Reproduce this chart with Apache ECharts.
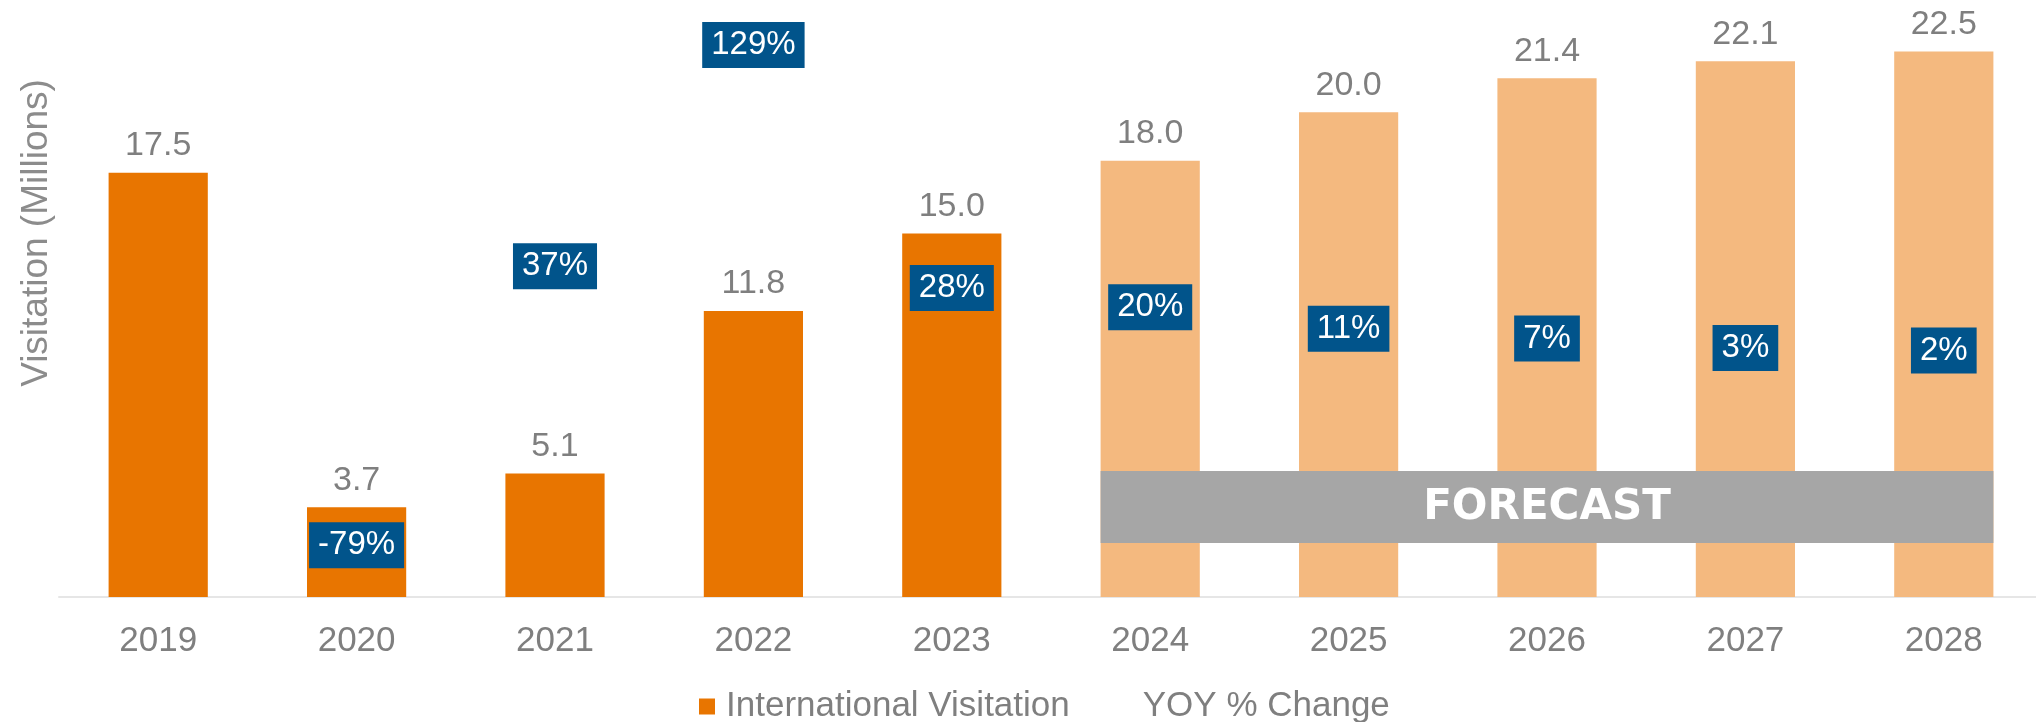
<!DOCTYPE html>
<html>
<head>
<meta charset="utf-8">
<title>International Visitation</title>
<script src="https://cdn.jsdelivr.net/npm/echarts@6/dist/echarts.min.js"></script>
<style>
  html, body { margin: 0; padding: 0; background: #ffffff; }
  #chart { width: 2036px; height: 722px; }
</style>
</head>
<body>
<div id="chart"></div>
<script>
// Years on the category axis
const years = ['2019', '2020', '2021', '2022', '2023', '2024', '2025', '2026', '2027', '2028'];
// International visitation, millions
const visitation = [17.5, 3.7, 5.1, 11.8, 15.0, 18.0, 20.0, 21.4, 22.1, 22.5];
// Year-over-year change, percent
const yoyChange = [null, -79, 37, 129, 28, 20, 11, 7, 3, 2];
// First projected year
const firstForecastYear = '2024';

const ACTUAL_COLOR = '#E87500';
const FORECAST_COLOR = '#F4B97F';
const LABEL_BLUE = '#01548B';
const TEXT_GRAY = '#7F7F7F';
const FONT = '"Liberation Sans", Arial, sans-serif';
const BAR_GAP = 0.5;

const forecastIndex = years.indexOf(firstForecastYear);

const chart = echarts.init(document.getElementById('chart'), null, { renderer: 'canvas' });

const option = {
  animation: false,
  backgroundColor: '#ffffff',
  textStyle: { fontFamily: FONT },
  grid: {
    left: 59, right: -7, top: -9, bottom: 125,
    containLabel: false,
    outerBoundsMode: 'none'
  },
  legend: {
    left: 694, top: 684,
    itemWidth: 16, itemHeight: 16, itemGap: 46,
    textStyle: { color: TEXT_GRAY, fontSize: 35, fontFamily: FONT, padding: [0, 0, 0, 6] },
    data: [
      { name: 'International Visitation', icon: 'rect', itemStyle: { color: ACTUAL_COLOR } },
      { name: 'YOY % Change', icon: 'rect', itemStyle: { color: 'rgba(0,0,0,0)', borderWidth: 0 } }
    ]
  },
  xAxis: {
    type: 'category',
    data: years,
    axisLine: { show: true, lineStyle: { color: '#E6E6E6', width: 2 } },
    axisTick: { show: false },
    axisLabel: { color: TEXT_GRAY, fontSize: 35, fontFamily: FONT, margin: 27 },
    splitLine: { show: false }
  },
  yAxis: [
    {
      type: 'value', min: 0, max: 25,
      axisLine: { show: false }, axisTick: { show: false },
      axisLabel: { show: false }, splitLine: { show: false }
    },
    {
      type: 'value', min: -100.5, max: 151.5,
      axisLine: { show: false }, axisTick: { show: false },
      axisLabel: { show: false }, splitLine: { show: false }
    }
  ],
  series: [
    {
      name: 'International Visitation',
      type: 'bar',
      yAxisIndex: 0,
      barCategoryGap: (BAR_GAP * 100) + '%',
      itemStyle: { color: ACTUAL_COLOR },
      data: visitation.map((v, i) => ({
        value: v,
        itemStyle: { color: i >= forecastIndex ? FORECAST_COLOR : ACTUAL_COLOR }
      })),
      label: {
        show: true,
        position: 'top',
        distance: 10,
        color: TEXT_GRAY,
        fontSize: 34,
        fontFamily: FONT,
        formatter: p => Number(p.value).toFixed(1)
      },
      z: 2
    },
    {
      name: 'YOY % Change',
      type: 'line',
      yAxisIndex: 1,
      data: yoyChange,
      symbol: 'circle',
      symbolSize: 1,
      showSymbol: true,
      connectNulls: false,
      lineStyle: { width: 0, opacity: 0 },
      itemStyle: { color: 'rgba(0,0,0,0)' },
      label: {
        show: true,
        position: 'inside',
        formatter: p => p.value + '%',
        color: '#ffffff',
        backgroundColor: LABEL_BLUE,
        fontSize: 33,
        lineHeight: 32,
        fontFamily: FONT,
        padding: [7, 9, 7, 9]
      },
      z: 5
    }
  ],
  graphic: [
    {
      type: 'text',
      id: 'yTitle',
      x: 37, y: 233,
      rotation: Math.PI / 2,
      style: {
        text: 'Visitation (Millions)',
        fill: '#8C8C8C',
        font: '37px ' + FONT,
        align: 'center',
        verticalAlign: 'middle'
      }
    }
  ]
};

chart.setOption(option);

// Forecast band across the projected bars, placed from the axes' own scales
function drawForecastBand() {
  const x0 = chart.convertToPixel({ xAxisIndex: 0 }, years[forecastIndex]);
  const x1 = chart.convertToPixel({ xAxisIndex: 0 }, years[years.length - 1]);
  const step = chart.convertToPixel({ xAxisIndex: 0 }, years[1]) - chart.convertToPixel({ xAxisIndex: 0 }, years[0]);
  const half = step * (1 - BAR_GAP) / 2;
  const yTop = chart.convertToPixel({ yAxisIndex: 0 }, 5.2);
  const yBottom = chart.convertToPixel({ yAxisIndex: 0 }, 2.23);
  const left = x0 - half;
  const right = x1 + half;
  chart.setOption({
    graphic: [
      {
        type: 'rect',
        id: 'forecastBand',
        shape: { x: left, y: yTop, width: right - left, height: yBottom - yTop },
        style: { fill: '#A6A6A6' },
        z: 10
      },
      {
        type: 'text',
        id: 'forecastText',
        x: (left + right) / 2,
        y: (yTop + yBottom) / 2 + 1,
        style: {
          text: 'FORECAST',
          fill: '#ffffff',
          font: 'bold 42px "DejaVu Sans", sans-serif',
          align: 'center',
          verticalAlign: 'middle'
        },
        z: 11
      }
    ]
  });
}
drawForecastBand();
</script>
</body>
</html>
